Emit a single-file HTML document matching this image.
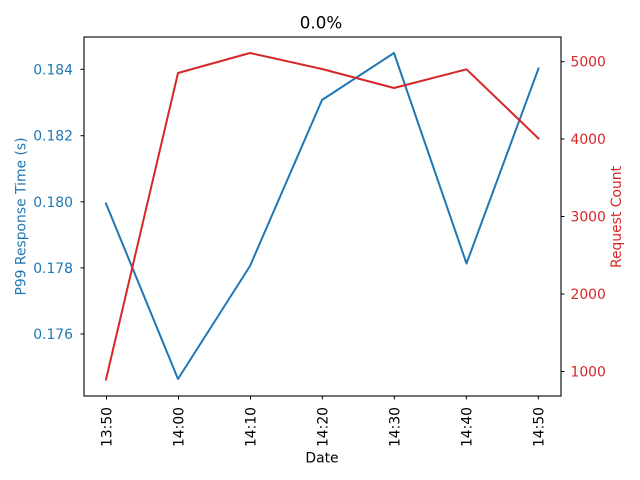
<!DOCTYPE html>
<html>
<head>
<meta charset="utf-8">
<style>
html,body{margin:0;padding:0;background:#fff;}
svg{display:block;}
text{font-family:"DejaVu Sans","Liberation Sans",sans-serif;}
</style>
</head>
<body>
<svg width="640" height="480" viewBox="0 0 640 480" xmlns="http://www.w3.org/2000/svg">
<rect x="0" y="0" width="640" height="480" fill="#fff"/>

<!-- title -->
<text x="321" y="28.5" font-size="16.7" text-anchor="middle" fill="#000">0.0%</text>

<!-- series: blue -->
<polyline fill="none" stroke="#1f77b4" stroke-width="2" stroke-linejoin="round" stroke-linecap="square"
 points="106,203.5 178,379 250,266 322,100 394,53 466.5,263.5 538.5,68.5"/>
<!-- series: red -->
<polyline fill="none" stroke="#d62728" stroke-width="2" stroke-linejoin="round" stroke-linecap="square"
 points="106,379.5 178,73 250,53 322,69 394,88 466.5,69.3 538.5,138.5"/>

<!-- axes frame -->
<rect x="84" y="37" width="477" height="359" fill="none" stroke="#000" stroke-width="1.1"/>

<!-- left ticks -->
<g stroke="#000" stroke-width="1">
<line x1="80.5" y1="69.3" x2="84" y2="69.3"/>
<line x1="80.5" y1="135.7" x2="84" y2="135.7"/>
<line x1="80.5" y1="201.8" x2="84" y2="201.8"/>
<line x1="80.5" y1="267.9" x2="84" y2="267.9"/>
<line x1="80.5" y1="334" x2="84" y2="334"/>
</g>
<g font-size="13.9" fill="#1f77b4" text-anchor="end">
<text x="73" y="74.3">0.184</text>
<text x="73" y="140.7">0.182</text>
<text x="73" y="206.8">0.180</text>
<text x="73" y="272.9">0.178</text>
<text x="73" y="339">0.176</text>
</g>

<!-- right ticks -->
<g stroke="#000" stroke-width="1">
<line x1="561" y1="61.7" x2="564.5" y2="61.7"/>
<line x1="561" y1="139" x2="564.5" y2="139"/>
<line x1="561" y1="216.5" x2="564.5" y2="216.5"/>
<line x1="561" y1="294" x2="564.5" y2="294"/>
<line x1="561" y1="371.5" x2="564.5" y2="371.5"/>
</g>
<g font-size="13.9" fill="#d62728" text-anchor="start">
<text x="570.5" y="66.7">5000</text>
<text x="570.5" y="144">4000</text>
<text x="570.5" y="221.5">3000</text>
<text x="570.5" y="299">2000</text>
<text x="570.5" y="376.5">1000</text>
</g>

<!-- bottom ticks -->
<g stroke="#000" stroke-width="1">
<line x1="106.5" y1="396" x2="106.5" y2="399.5"/>
<line x1="178.5" y1="396" x2="178.5" y2="399.5"/>
<line x1="250.5" y1="396" x2="250.5" y2="399.5"/>
<line x1="322.3" y1="396" x2="322.3" y2="399.5"/>
<line x1="394.3" y1="396" x2="394.3" y2="399.5"/>
<line x1="466.3" y1="396" x2="466.3" y2="399.5"/>
<line x1="538.3" y1="396" x2="538.3" y2="399.5"/>
</g>
<g font-size="13.9" fill="#000" text-anchor="end">
<text transform="translate(111.5,407) rotate(-90)">13:50</text>
<text transform="translate(183.5,407) rotate(-90)">14:00</text>
<text transform="translate(255.5,407) rotate(-90)">14:10</text>
<text transform="translate(327.3,407) rotate(-90)">14:20</text>
<text transform="translate(399.3,407) rotate(-90)">14:30</text>
<text transform="translate(471.3,407) rotate(-90)">14:40</text>
<text transform="translate(543.3,407) rotate(-90)">14:50</text>
</g>

<!-- axis labels -->
<text x="322" y="462.5" font-size="13.9" text-anchor="middle" fill="#000">Date</text>
<text transform="translate(25.5,216.5) rotate(-90)" font-size="13.9" text-anchor="middle" fill="#1f77b4">P99 Response Time (s)</text>
<text transform="translate(621,217) rotate(-90)" font-size="13.9" text-anchor="middle" fill="#d62728">Request Count</text>
</svg>
</body>
</html>
